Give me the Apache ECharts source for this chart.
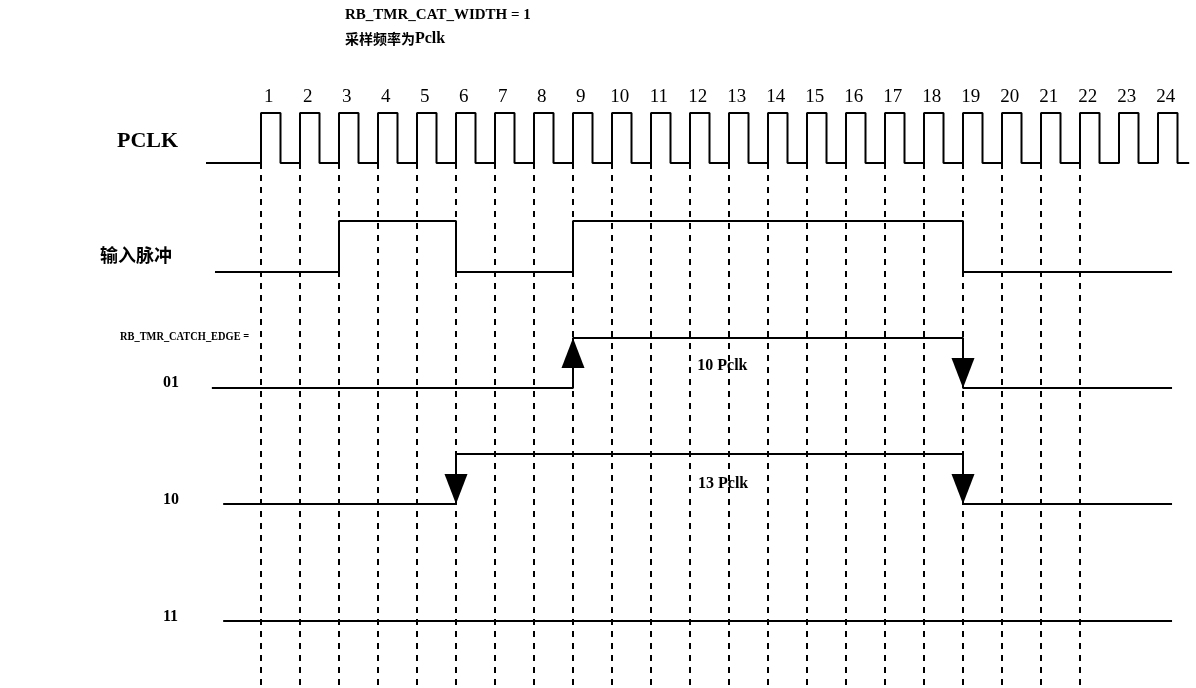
<!DOCTYPE html>
<html><head><meta charset="utf-8">
<script src="https://cdn.jsdelivr.net/npm/echarts@6/dist/echarts.min.js"></script>
<style>html,body{margin:0;padding:0;background:#fff}#c{width:1196px;height:688px}</style>
</head><body><div id="c"></div>
<script>
// ---------------- data ----------------
const clockLabels = ['1','2','3','4','5','6','7','8','9','10','11','12','13','14','15','16','17','18','19','20','21','22','23','24'];
const pclkRisingEdges = [1,2,3,4,5,6,7,8,9,10,11,12,13,14,15,16,17,18,19,20,21,22,23,24];
const pclkDuty = 0.5;
const pclkSpan = [-0.41, 24.8];
const inputEdges = [3, 6, 9, 19];        // input pulse toggles (starts low)
const inputSpan = [-0.18, 24.36];
const edge01Edges = [9, 19];             // CATCH_EDGE = 01 : rising -> falling
const edge01Span = [-0.26, 24.36];
const edge10Edges = [6, 19];             // CATCH_EDGE = 10 : falling -> falling
const edge10Span = [0.03, 24.36];
const edge11Span = [0.03, 24.36];
const sampleLines = [1,2,3,4,5,6,7,8,9,10,11,12,13,14,15,16,17,18,19,20,21,22];
const upArrows01 = [9];
const downArrows01 = [19];
const downArrows10 = [6, 19];
const spanLabels = ['10 Pclk', '13 Pclk'];
const spanLabelAt = [12.83, 12.85];
const titleLine1 = 'RB_TMR_CAT_WIDTH = 1';
const titleLine2 = ['采样频率为', 'Pclk'];
const rowNames = ['PCLK', '输入脉冲', 'RB_TMR_CATCH_EDGE =', '01', '10', '11'];

// ---------------- layout ----------------
const W = 1196, H = 688;
const X1 = 261, PERIOD = 39;               // pixel of t=1 and pixels per clock
const xMin = 1 - X1 / PERIOD, xMax = 1 + (W - X1) / PERIOD;
const ROW = { pclk: 163, input: 272, r01: 388, r10: 504, r11: 621 };
const AMP = { pclk: 50, input: 51, r01: 50, r10: 50 };
const ARROW = { w: 23, h: 30 };
const BLACK = '#000';
const SERIF = '"Liberation Serif","Times New Roman",serif';
const CJK = '"Noto Sans CJK SC","Noto Sans CJK JP",sans-serif';

function toggleWave(span, edges, base, amp) {
  const pts = [[span[0], base]];
  let lvl = 0;
  edges.forEach(e => {
    pts.push([e, base - lvl * amp]);
    lvl = 1 - lvl;
    pts.push([e, base - lvl * amp]);
  });
  pts.push([span[1], base - lvl * amp]);
  return pts;
}
const pclkToggles = [];
pclkRisingEdges.forEach(r => { pclkToggles.push(r, r + pclkDuty); });

function wave(name, data) {
  return { name, type: 'line', data, symbol: 'none', silent: true,
    lineStyle: { color: BLACK, width: 2 }, z: 3 };
}
function arrows(ts, centerY, rot) {
  return { type: 'scatter', symbol: 'triangle', symbolSize: [ARROW.w, ARROW.h], symbolRotate: rot,
    itemStyle: { color: BLACK, opacity: 1 }, silent: true, z: 4,
    data: ts.map(t => [t, centerY]) };
}
function textSeries(data, lbl) {
  return { type: 'scatter', symbol: 'circle', symbolSize: 0, silent: true, z: 5,
    itemStyle: { color: '#fff', opacity: 1 },
    data, label: Object.assign({ show: true, position: 'inside', formatter: p => p.value[2],
      color: BLACK, opacity: 1 }, lbl) };
}

const series = [
  wave('PCLK', toggleWave(pclkSpan, pclkToggles, ROW.pclk, AMP.pclk)),
  wave('input', toggleWave(inputSpan, inputEdges, ROW.input, AMP.input)),
  wave('01', toggleWave(edge01Span, edge01Edges, ROW.r01, AMP.r01)),
  wave('10', toggleWave(edge10Span, edge10Edges, ROW.r10, AMP.r10)),
  wave('11', [[edge11Span[0], ROW.r11], [edge11Span[1], ROW.r11]]),
  { type: 'line', data: [], silent: true, z: 2,
    markLine: { silent: true, symbol: ['none', 'none'], animation: false,
      label: { show: false },
      lineStyle: { color: BLACK, width: 2, type: [6, 6], opacity: 1 },
      data: sampleLines.map(t => [{ coord: [t, ROW.pclk] }, { coord: [t, H - 2] }]) } },
  arrows(upArrows01, ROW.r01 - AMP.r01 + ARROW.h / 2, 0),
  arrows(downArrows01, ROW.r01 - ARROW.h / 2, 180),
  arrows(downArrows10, ROW.r10 - ARROW.h / 2, 180),
  textSeries(clockLabels.map((s, i) => [pclkRisingEdges[i] + pclkDuty / 2 - 0.05, 97, s]),
    { fontFamily: SERIF, fontSize: 19 }),
  textSeries([[spanLabelAt[0], 366, spanLabels[0]], [spanLabelAt[1], 484, spanLabels[1]]],
    { fontFamily: SERIF, fontWeight: 'bold', fontSize: 16 })
];

function txt(x, y, text, size, font, sx) {
  return { type: 'text', x, y, scaleX: sx || 1, style: { text, fontFamily: font, fontWeight: 'bold', fontSize: size,
    fill: BLACK, align: 'left', verticalAlign: 'middle' } };
}

const chart = echarts.init(document.getElementById('c'), null, { renderer: 'canvas' });
chart.setOption({
  animation: false,
  backgroundColor: '#fff',
  grid: { left: 0, right: 0, top: 0, bottom: 0 },
  xAxis: { type: 'value', min: xMin, max: xMax, show: false },
  yAxis: { type: 'value', min: 0, max: H, inverse: true, show: false },
  series,
  graphic: [
    txt(345, 15, titleLine1, 15, SERIF),
    { type: 'text', x: 345, y: 39, style: {
      text: '{c|' + titleLine2[0] + '}{s|' + titleLine2[1] + '}',
      verticalAlign: 'middle',
      rich: {
        c: { fontFamily: CJK, fontWeight: 'bold', fontSize: 14, fill: BLACK, color: BLACK },
        s: { fontFamily: SERIF, fontWeight: 'bold', fontSize: 16, fill: BLACK, color: BLACK }
      } } },
    txt(117, 141, rowNames[0], 22, SERIF),
    txt(100, 255, rowNames[1], 18, CJK),
    txt(120, 337, rowNames[2], 13, SERIF, 0.8),
    txt(163, 383, rowNames[3], 16, SERIF),
    txt(163, 500, rowNames[4], 16, SERIF),
    txt(163, 617, rowNames[5], 16, SERIF)
  ]
});
</script></body></html>
